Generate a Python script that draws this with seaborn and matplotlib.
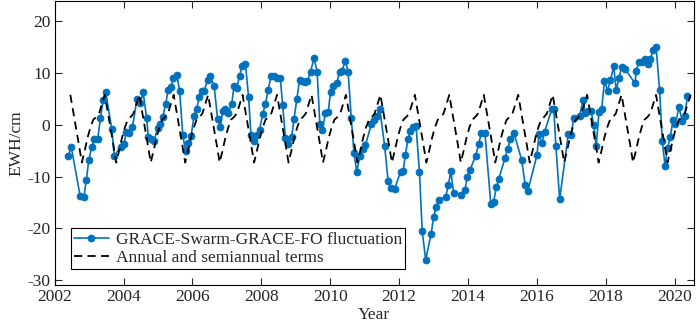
import numpy as np
import pandas as pd
import matplotlib
matplotlib.use("Agg")
import matplotlib.pyplot as plt
import seaborn as sns

# decimal year of each monthly solution
t_year = [
    2002.40, 2002.48, 2002.74, 2002.85, 2002.92, 2002.99, 2003.08, 2003.15, 2003.25, 2003.33,
    2003.41, 2003.48, 2003.66, 2003.73, 2003.92, 2004.01, 2004.08, 2004.16, 2004.26, 2004.39,
    2004.49, 2004.57, 2004.67, 2004.72, 2004.80, 2004.89, 2004.99, 2005.07, 2005.14, 2005.22,
    2005.30, 2005.38, 2005.45, 2005.55, 2005.63, 2005.72, 2005.80, 2005.88, 2005.96, 2006.05,
    2006.12, 2006.20, 2006.27, 2006.34, 2006.44, 2006.51, 2006.63, 2006.73, 2006.81, 2006.88,
    2006.96, 2007.04, 2007.14, 2007.21, 2007.29, 2007.37, 2007.44, 2007.54, 2007.63, 2007.70,
    2007.79, 2007.87, 2007.95, 2008.04, 2008.12, 2008.20, 2008.28, 2008.37, 2008.45, 2008.55,
    2008.62, 2008.70, 2008.78, 2008.88, 2008.95, 2009.03, 2009.11, 2009.18, 2009.26, 2009.34,
    2009.43, 2009.53, 2009.62, 2009.70, 2009.77, 2009.86, 2009.94, 2010.01, 2010.09, 2010.19,
    2010.27, 2010.34, 2010.44, 2010.52, 2010.61, 2010.69, 2010.77, 2010.86, 2010.94, 2011.02,
    2011.19, 2011.27, 2011.35, 2011.44, 2011.58, 2011.68, 2011.77, 2011.87, 2012.04, 2012.12,
    2012.18, 2012.26, 2012.33, 2012.41, 2012.49, 2012.59, 2012.67, 2012.77, 2012.93, 2013.00,
    2013.08, 2013.15, 2013.35, 2013.43, 2013.50, 2013.58, 2013.81, 2013.91, 2013.98, 2014.06,
    2014.22, 2014.31, 2014.39, 2014.49, 2014.66, 2014.74, 2014.82, 2014.89, 2015.07, 2015.15,
    2015.23, 2015.33, 2015.56, 2015.66, 2015.73, 2016.00, 2016.06, 2016.14, 2016.22, 2016.43,
    2016.49, 2016.55, 2016.66, 2016.91, 2016.99, 2017.07, 2017.24, 2017.34, 2017.40, 2017.49,
    2017.57, 2017.65, 2017.72, 2017.80, 2017.88, 2017.96, 2018.05, 2018.13, 2018.23, 2018.30,
    2018.38, 2018.46, 2018.56, 2018.85, 2018.88, 2018.96, 2019.04, 2019.14, 2019.21, 2019.29,
    2019.37, 2019.46, 2019.56, 2019.64, 2019.72, 2019.79, 2019.87, 2019.95, 2020.02, 2020.12,
    2020.22, 2020.29, 2020.37,
]

# EWH fluctuation in cm
ewh = [
    -6.0, -4.2, -13.7, -14.0, -10.7, -6.9, -4.2, -2.8, -2.8, 1.3,
    4.8, 6.4, -0.8, -6.0, -4.2, -3.8, -1.4, -1.5, -0.4, 5.0,
    4.2, 6.3, 1.4, -2.3, -2.8, -3.1, -0.6, 0.1, 1.5, 4.0,
    6.7, 7.3, 9.1, 9.6, 6.5, -2.0, -5.0, -3.6, -2.2, 1.8,
    3.0, 5.4, 6.6, 6.5, 8.7, 9.5, 7.5, 1.2, -0.5, 2.7,
    3.0, 2.2, 4.0, 7.6, 7.2, 9.5, 11.4, 11.7, 5.4, -2.0,
    -3.1, -2.0, -1.0, 2.1, 4.0, 6.8, 9.4, 9.5, 9.1, 9.0,
    3.9, -2.6, -3.7, -2.4, 1.2, 5.0, 8.7, 8.4, 8.2, 8.5,
    10.3, 12.9, 10.3, 0.1, -1.0, 2.2, 2.4, 6.4, 7.6, 8.0,
    10.3, 10.5, 12.3, 10.2, 1.4, -5.5, -9.1, -6.0, -4.6, -4.0,
    0.1, 0.9, 1.8, 3.0, -4.1, -10.9, -12.2, -12.4, -9.1, -8.9,
    -5.8, -2.7, -1.2, -0.5, -0.2, -9.1, -20.6, -26.1, -21.1, -17.8,
    -15.9, -14.6, -13.9, -11.7, -8.9, -13.1, -13.5, -12.6, -10.0, -8.7,
    -6.0, -3.7, -1.5, -1.5, -15.3, -15.0, -12.1, -10.5, -6.5, -4.7,
    -2.7, -1.5, -6.9, -11.7, -12.9, -5.9, -1.8, -3.6, -1.4, 3.0,
    3.0, -4.1, -14.4, -1.8, -2.0, 1.4, 1.8, 4.8, 2.3, 2.7,
    2.7, 0.0, -4.1, 2.4, 3.1, 8.5, 6.6, 8.6, 11.3, 6.7,
    9.0, 11.2, 10.8, 8.0, 10.5, 12.1, 12.1, 12.7, 11.7, 12.7,
    14.4, 15.0, 6.7, -3.2, -8.0, -4.5, -2.4, 1.0, 0.1, 3.4,
    0.7, 1.8, 5.6,
]

# annual + semiannual signal for each calendar month (Jan..Dec), cm
seasonal_cycle = [-0.5, 1.0, 1.5, 2.2, 4.0, 5.8, 2.6, -0.6, -3.9, -7.3, -5.0, -2.5]

df = pd.DataFrame({"year": t_year, "ewh": ewh})

# seasonal model on a regular monthly grid, Jun 2002 - Jun 2020
months = pd.date_range("2002-06-01", "2020-06-01", freq="MS")
season = pd.DataFrame({
    "year": months.year + 0.04 + (months.month - 1) / 12,
    "seasonal": np.array(seasonal_cycle)[months.month - 1],
})

sns.set_style("ticks")
plt.rcParams["font.family"] = ["Liberation Serif", "DejaVu Serif"]
plt.rcParams["axes.unicode_minus"] = False
plt.rcParams["xtick.direction"] = "in"
plt.rcParams["ytick.direction"] = "in"

fig, ax = plt.subplots(figsize=(7, 3.28), dpi=100)
fig.subplots_adjust(left=0.078, right=0.991, bottom=0.131, top=0.996)

sns.lineplot(data=df, x="year", y="ewh", ax=ax, color="#0072BD", linewidth=1.2,
             marker="o", markersize=4.8, markeredgecolor="#0072BD",
             label="GRACE-Swarm-GRACE-FO fluctuation")
sns.lineplot(data=season, x="year", y="seasonal", ax=ax, color="black", linewidth=1.3,
             linestyle=(0, (4.5, 3)), label="Annual and semiannual terms")

ax.set_xlim(2002, 2020.55)
ax.set_ylim(-31, 23.9)
ax.set_xticks(np.arange(2002, 2021, 2))
ax.set_yticks(np.arange(-30, 21, 10))
ax.tick_params(axis="both", labelsize=12.5, length=5, width=0.8,
               top=True, right=True, pad=3)
for s in ax.spines.values():
    s.set_linewidth(0.8)
    s.set_color("black")

ax.set_xlabel("Year", fontsize=12.5, labelpad=1)
ax.set_ylabel("EWH/cm", fontsize=12.5, labelpad=2)

leg = ax.legend(loc="lower left", bbox_to_anchor=(0.025, 0.056), borderaxespad=0,
                fontsize=12.5, fancybox=False, framealpha=1, edgecolor="black",
                borderpad=0.2, labelspacing=0.1, handlelength=2.0, handletextpad=0.4)
leg.get_frame().set_linewidth(0.8)

fig.savefig("out.png", dpi=100)
